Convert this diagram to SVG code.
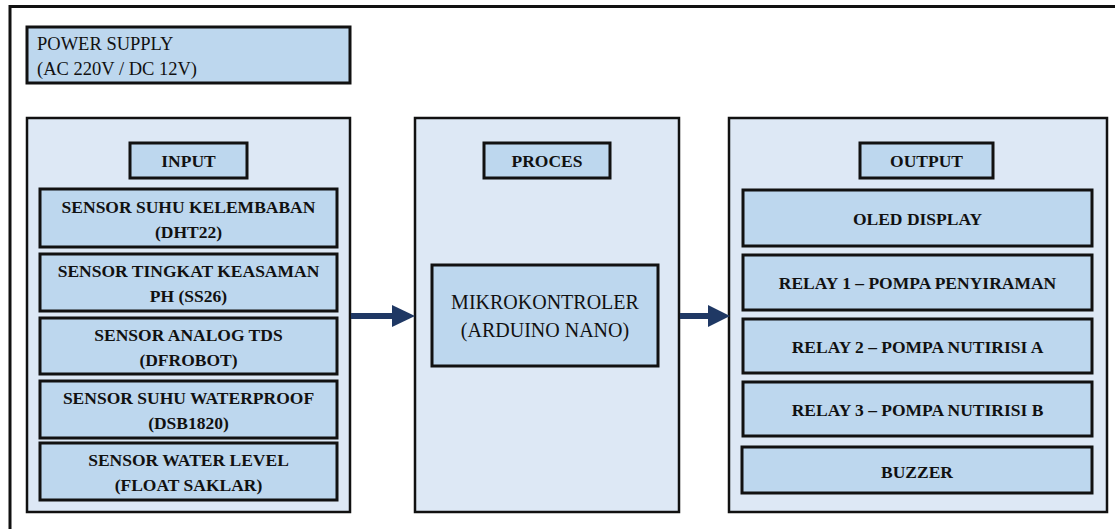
<svg xmlns="http://www.w3.org/2000/svg" width="1115" height="529" viewBox="0 0 1115 529">
<style>
.panel{fill:#dde8f5;stroke:#111;stroke-width:2.5}
.box{fill:#bdd7ee;stroke:#111;stroke-width:3}
.t{font-family:"Liberation Serif",serif;font-size:17.5px;font-weight:bold;fill:#111;text-anchor:middle}
.r{font-family:"Liberation Serif",serif;fill:#111}
.frame{stroke:#111;stroke-width:3;fill:none}
.conn{stroke:#1f3864;stroke-width:6;fill:none}
</style>
<rect width="1115" height="529" fill="#fff"/>
<path class="frame" d="M10,529 L10,6.5 L1115,6.5"/>

<g id="power">
<rect class="box" x="27" y="27" width="323" height="56"/>
<text class="r" x="37" y="50" font-size="18.5">POWER SUPPLY</text>
<text class="r" x="37" y="75" font-size="18.5">(AC 220V / DC 12V)</text>
</g>

<g id="input">
<rect class="panel" x="27" y="118" width="323" height="394"/>
<rect class="box" x="130" y="143" width="117" height="35"/>
<text class="t" x="188.5" y="167">INPUT</text>
</g>
<g id="sensor-dht22">
<rect class="box" x="40" y="189" width="297" height="58"/>
<text class="t" x="188.5" y="213">SENSOR SUHU KELEMBABAN</text>
<text class="t" x="188.5" y="238">(DHT22)</text>
</g>
<g id="sensor-ph">
<rect class="box" x="40" y="254" width="297" height="57"/>
<text class="t" x="188.5" y="277">SENSOR TINGKAT KEASAMAN</text>
<text class="t" x="188.5" y="302">PH (SS26)</text>
</g>
<g id="sensor-tds">
<rect class="box" x="40" y="318" width="297" height="56"/>
<text class="t" x="188.5" y="341">SENSOR ANALOG TDS</text>
<text class="t" x="188.5" y="366">(DFROBOT)</text>
</g>
<g id="sensor-waterproof">
<rect class="box" x="40" y="381" width="297" height="57"/>
<text class="t" x="188.5" y="404">SENSOR SUHU WATERPROOF</text>
<text class="t" x="188.5" y="429">(DSB1820)</text>
</g>
<g id="sensor-level">
<rect class="box" x="40" y="443" width="297" height="57"/>
<text class="t" x="188.5" y="466">SENSOR WATER LEVEL</text>
<text class="t" x="188.5" y="491">(FLOAT SAKLAR)</text>
</g>

<g id="proces">
<rect class="panel" x="415" y="118" width="264" height="394"/>
<rect class="box" x="484" y="143" width="126" height="35"/>
<text class="t" x="547" y="167">PROCES</text>
</g>
<g id="mikrokontroler">
<rect class="box" x="432" y="265" width="226" height="101"/>
<text class="r" x="545" y="309" font-size="20" text-anchor="middle">MIKROKONTROLER</text>
<text class="r" x="545" y="337" font-size="20" text-anchor="middle">(ARDUINO NANO)</text>
</g>

<g id="output">
<rect class="panel" x="729" y="118" width="378" height="394"/>
<rect class="box" x="860" y="143" width="133" height="35"/>
<text class="t" x="926.5" y="167">OUTPUT</text>
</g>
<g id="oled">
<rect class="box" x="743" y="190" width="349" height="56"/>
<text class="t" x="917.5" y="225">OLED DISPLAY</text>
</g>
<g id="relay1">
<rect class="box" x="743" y="255" width="349" height="55"/>
<text class="t" x="917.5" y="289">RELAY 1 – POMPA PENYIRAMAN</text>
</g>
<g id="relay2">
<rect class="box" x="743" y="319" width="349" height="54"/>
<text class="t" x="917.5" y="353">RELAY 2 – POMPA NUTIRISI A</text>
</g>
<g id="relay3">
<rect class="box" x="743" y="382" width="349" height="54"/>
<text class="t" x="917.5" y="416">RELAY 3 – POMPA NUTIRISI B</text>
</g>
<g id="buzzer">
<rect class="box" x="742" y="447" width="350" height="46"/>
<text class="t" x="917" y="478">BUZZER</text>
</g>

<g id="connectors">
<line class="conn" x1="351" y1="316" x2="393" y2="316"/>
<path d="M392,305 L415,316 L392,327 Z" fill="#1f3864"/>
<line class="conn" x1="680" y1="316" x2="709" y2="316"/>
<path d="M708,305 L730,316 L708,327 Z" fill="#1f3864"/>
</g>
</svg>
